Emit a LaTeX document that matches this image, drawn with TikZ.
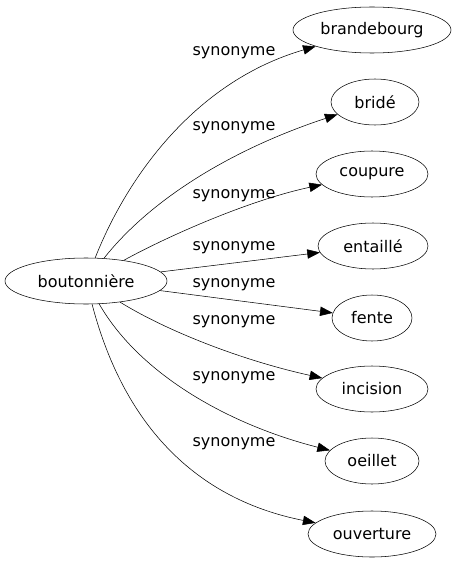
\documentclass[tikz,border=0pt]{standalone}
\usepackage{fontspec}
\setmainfont{DejaVu Sans}
\usetikzlibrary{shapes.geometric,arrows.meta}

\begin{document}
\begin{tikzpicture}[x=0.75pt, y=-0.75pt,
      word/.style={ellipse, draw, inner sep=0pt, minimum height=34.5pt,
                   font=\fontsize{12}{14}\selectfont},
      rel/.style={font=\fontsize{12}{14}\selectfont, inner sep=0pt},
      syn/.style={-{Triangle[length=9.5pt, width=7pt]}, black}]
    \useasboundingbox (0,0) rectangle (457,563);
    \node[word, minimum width=121.5pt] (bout) at (86,281) {boutonnière};
    \node[word, minimum width=118.5pt] (brand) at (372,30) {brandebourg};
    \node[word, minimum width=66pt] (bride) at (375,102) {bridé};
    \node[word, minimum width=84pt] (coup) at (372,174) {coupure};
    \node[word, minimum width=82.5pt] (ent) at (373,246) {entaillé};
    \node[word, minimum width=60pt] (fente) at (372,318) {fente};
    \node[word, minimum width=84pt] (inc) at (372,389) {incision};
    \node[word, minimum width=70.5pt] (oeil) at (372,461) {oeillet};
    \node[word, minimum width=96pt] (ouv) at (372,534) {ouverture};
    \node[rel] (l1) at (234,53) {synonyme};
    \node[rel] (l2) at (234,128) {synonyme};
    \node[rel] (l3) at (234,196) {synonyme};
    \node[rel] (l4) at (234,248) {synonyme};
    \node[rel] (l5) at (234,285) {synonyme};
    \node[rel] (l6) at (234,322) {synonyme};
    \node[rel] (l7) at (234,378) {synonyme};
    \node[rel] (l8) at (234,444) {synonyme};
    \draw[syn] (bout) .. controls (130,170) and (200,80) .. (brand);
    \draw[syn] (bout) .. controls (150,200) and (230,150) .. (bride);
    \draw[syn] (bout) .. controls (170,235) and (250,200) .. (coup);
    \draw[syn] (bout) -- (ent);
    \draw[syn] (bout) -- (fente);
    \draw[syn] (bout) .. controls (165,330) and (240,360) .. (inc);
    \draw[syn] (bout) .. controls (140,375) and (230,425) .. (oeil);
    \draw[syn] (bout) .. controls (125,430) and (200,500) .. (ouv);
  \end{tikzpicture}
\end{document}
